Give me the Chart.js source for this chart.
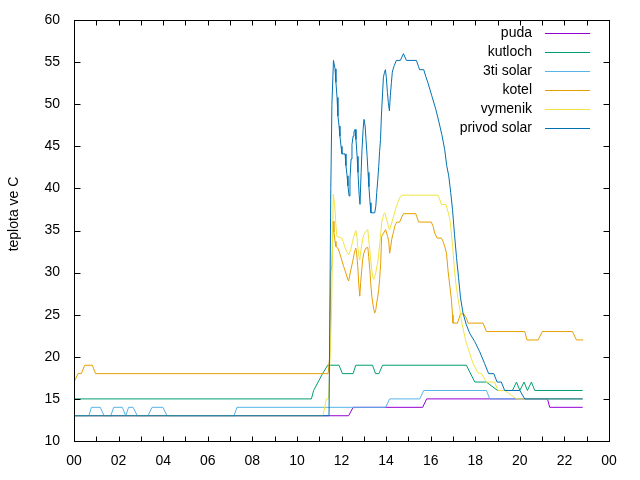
<!DOCTYPE html>
<html>
<head>
<meta charset="utf-8">
<script src="https://cdn.jsdelivr.net/npm/chart.js@4.4.1/dist/chart.umd.min.js"></script>
<style>
  html, body { margin: 0; padding: 0; background: #fff; }
</style>
</head>
<body>
<canvas id="teploty" width="640" height="480"></canvas>
<script>
// series names as in the legend
const seriesNames = ['puda', 'kutloch', '3ti solar', 'kotel', 'vymenik', 'privod solar'];

// time of day in hours, temperature in C
const pudaHours = [0, 12.32, 12.52, 15.64, 15.82, 21.24, 21.34, 22.82];
const pudaTemps = [13, 13, 14, 14, 15, 15, 14, 14];

const kutlochHours = [0, 10.65, 10.75, 10.95, 11.15, 11.38, 11.89, 12.04, 12.52, 12.64, 13.39, 13.53, 13.68, 13.84,
  17.6, 17.98, 18.5, 19.0, 19.67, 19.85, 20.0, 20.19, 20.34, 20.52, 20.67, 22.82];
const kutlochTemps = [15, 15, 16, 17, 18, 19, 19, 18, 18, 19, 19, 18, 18, 19,
  19, 17, 17, 16, 16, 17, 16, 17, 16, 17, 16, 16];

const solar3Hours = [0, 0.67, 0.78, 1.18, 1.35, 1.65, 1.78, 2.17, 2.32, 2.45, 2.65, 2.84, 3.32, 3.5, 3.99, 4.17,
  7.18, 7.31, 13.98, 14.16, 15.51, 15.69, 18.5, 18.65, 22.82];
const solar3Temps = [13, 13, 14, 14, 13, 13, 14, 14, 13, 14, 14, 13, 13, 14, 14, 13,
  13, 14, 14, 15, 15, 16, 16, 15, 15];

const kotelHours = [0, 0.18, 0.33, 0.48, 0.82, 0.97, 11.4, 11.47, 11.52, 11.57, 11.62, 11.66, 11.71, 11.75, 11.84,
  11.92, 12.01, 12.1, 12.19, 12.28, 12.32, 12.41, 12.5, 12.59, 12.64, 12.68, 12.73, 12.77, 12.82, 12.86, 12.91,
  12.95, 13.0, 13.09, 13.18, 13.22, 13.27, 13.31, 13.36, 13.4, 13.45, 13.49, 13.54, 13.58, 13.63, 13.67, 13.71,
  13.76, 13.8, 13.89, 13.98, 14.07, 14.12, 14.16, 14.21, 14.25, 14.3, 14.34, 14.39, 14.43, 14.48, 14.61, 14.7,
  14.79, 15.33, 15.37, 15.46, 16.03, 16.11, 16.18, 16.29, 16.48, 16.56, 16.63, 16.71, 16.78, 16.86, 16.93, 16.98,
  17.0, 17.2, 17.34, 17.48, 17.6, 17.68, 18.35, 18.5, 20.22, 20.32, 20.82, 21.01, 22.36, 22.54, 22.84];
const kotelTemps = [17, 18, 18, 19, 19, 18, 18, 20, 30, 31, 36.1, 34.8, 33.7, 33.1, 32.9,
  32.3, 31.5, 30.7, 30.0, 29.2, 29.0, 30.2, 31.3, 32.5, 32.9, 32.3, 30.7, 28.8, 27.2, 28.8, 30.4,
  31.5, 32.3, 32.9, 33.0, 31.9, 30.4, 28.8, 27.2, 26.4, 25.6, 25.2, 25.6, 26.4, 27.2, 28.0, 29.2,
  31.2, 34.3, 34.7, 35.1, 34.3, 33.7, 32.3, 33.1, 33.9, 34.5, 34.9, 35.5, 35.8, 36.0, 36.0, 36.6,
  37.0, 37.0, 36.7, 36.0, 36.0, 35.5, 34.7, 34.1, 34.1, 33.7, 33.1, 32.3, 30.2, 28.4, 26.8, 25.0,
  24.0, 24.0, 25.1, 25.1, 24.6, 24.0, 24.0, 23.0, 23.0, 22.0, 22.0, 23.0, 23.0, 22.0, 22.0];

const vymenikHours = [0, 11.17, 11.32, 11.42, 11.55, 11.63, 11.7, 11.74, 11.79, 12.01, 12.07, 12.14, 12.23, 12.32,
  12.41, 12.5, 12.55, 12.64, 12.69, 12.73, 12.78, 12.82, 12.87, 12.96, 13.0, 13.09, 13.18, 13.22, 13.27, 13.31,
  13.36, 13.4, 13.45, 13.49, 13.54, 13.58, 13.63, 13.67, 13.72, 13.76, 13.81, 13.85, 13.9, 13.94, 14.03, 14.12,
  14.16, 14.25, 14.34, 14.43, 14.52, 14.61, 14.7, 16.33, 16.38, 16.48, 16.68, 16.77, 16.85, 16.92, 16.99, 17.06,
  17.14, 17.22, 17.3, 17.38, 17.45, 17.53, 17.6, 17.68, 17.75, 17.9, 18.12, 18.28, 18.5, 18.87, 19.02, 19.32,
  19.85, 22.82];
const vymenikTemps = [13, 13, 15, 15, 25, 39.3, 37.9, 36, 34.3, 34.1, 33.7, 33.1, 32.5, 32.1,
  32.7, 33.7, 34.3, 35.0, 34.3, 33.1, 31.9, 31.5, 32.7, 34.1, 34.5, 34.9, 35.1, 33.9, 32.7, 31.5,
  30.3, 29.5, 29.2, 29.5, 30.0, 30.7, 31.2, 32.3, 33.5, 34.7, 36.1, 36.5, 37.0, 37.1, 36.3, 35.3,
  35.1, 35.9, 36.7, 37.6, 38.3, 38.9, 39.2, 39.2, 38.9, 38.1, 38.1, 37.3, 36.5, 35.0, 33.0, 30.5,
  28.5, 27.0, 25.8, 24.3, 23.4, 22.4, 21.6, 21.0, 20.4, 19.2, 18.1, 18.0, 17.0, 17.0, 16.0, 16.0,
  15.0, 15.0];

const privodHours = [0, 11.44, 11.52, 11.57, 11.64, 11.71, 11.75, 11.8, 11.84, 11.89, 11.93, 11.98, 12.02, 12.16,
  12.2, 12.25, 12.29, 12.34, 12.38, 12.43, 12.47, 12.52, 12.56, 12.61, 12.65, 12.7, 12.74, 12.79, 12.83, 12.88,
  12.92, 12.97, 13.01, 13.06, 13.1, 13.15, 13.19, 13.23, 13.28, 13.32, 13.49, 13.54, 13.58, 13.63, 13.67, 13.71,
  13.75, 13.79, 13.84, 13.88, 13.93, 13.97, 14.01, 14.06, 14.1, 14.15, 14.19, 14.24, 14.28, 14.33, 14.37, 14.46,
  14.64, 14.78, 14.91, 15.36, 15.45, 15.5, 15.69, 15.78, 15.87, 16.05, 16.23, 16.36, 16.5, 16.63, 16.72, 16.81,
  16.9, 16.98, 17.07, 17.16, 17.25, 17.34, 17.45, 17.6, 17.75, 17.98, 18.2, 18.42, 18.6, 18.83, 18.98, 19.17,
  19.32, 20.0, 20.22, 22.82];
const privodTemps = [13, 13, 40, 50, 55.2, 54.2, 52.6, 50.8, 48.6, 47.4, 46.2, 45.0, 44.1, 44.1,
  42.7, 41.5, 40.3, 39.1, 41.1, 43.5, 45.2, 46.2, 46.7, 47.0, 45.8, 43.8, 41.9, 39.3, 38.1, 41.9,
  44.6, 47.0, 48.2, 47.4, 45.8, 43.8, 41.9, 40.2, 38.3, 37.1, 37.1, 37.9, 39.5, 41.1, 42.6, 44.4,
  45.8, 48.6, 51.2, 53.2, 53.8, 54.1, 53.2, 51.4, 50.2, 49.2, 51.0, 52.6, 53.8, 54.3, 54.6, 55.2,
  55.2, 56.0, 55.2, 55.2, 54.5, 54.1, 54.1, 53.3, 52.6, 51.0, 49.4, 48.0, 46.4, 44.6, 42.7, 41.5,
  39.5, 37.5, 34.5, 31.8, 29.4, 27.0, 25.2, 23.8, 22.8, 21.8, 20.6, 19.2, 18.0, 18.0, 17.0, 17.0,
  16.0, 16.0, 15.0, 15.0];

const seriesHours = [pudaHours, kutlochHours, solar3Hours, kotelHours, vymenikHours, privodHours];
const seriesTemps = [pudaTemps, kutlochTemps, solar3Temps, kotelTemps, vymenikTemps, privodTemps];
const seriesColors = ['#9400d3', '#009e73', '#56b4e9', '#e69f00', '#f0e442', '#0072b2'];

const yTitle = 'teplota ve C';
const FONT = '"Liberation Sans", Arial, sans-serif';

// gnuplot-like frame: box, inward ticks, legend at top right, y label
const gnuFrame = {
  id: 'gnuFrame',
  afterDatasetsDraw(chart) {
    const { ctx, chartArea: a, scales: { x, y } } = chart;
    const L = a.left + 0.5, R = a.right + 0.5, T = a.top + 0.5, B = a.bottom + 0.5;
    ctx.save();
    ctx.strokeStyle = '#000';
    ctx.lineWidth = 1;
    ctx.strokeRect(L, T, R - L, B - T);
    ctx.beginPath();
    for (let h = x.min + 1; h < x.max; h++) {
      const px = Math.round(x.getPixelForValue(h)) + 0.5;
      ctx.moveTo(px, B); ctx.lineTo(px, B - 5);
      ctx.moveTo(px, T); ctx.lineTo(px, T + 5);
    }
    for (let v = y.min + 5; v < y.max; v += 5) {
      const py = Math.round(y.getPixelForValue(v)) + 0.5;
      ctx.moveTo(L, py); ctx.lineTo(L + 6, py);
      ctx.moveTo(R, py); ctx.lineTo(R - 6, py);
    }
    ctx.stroke();

    // legend
    ctx.font = '14px ' + FONT;
    ctx.textAlign = 'right';
    ctx.textBaseline = 'middle';
    chart.data.datasets.forEach((ds, i) => {
      const ly = Math.round(a.top + 13 + i * 19) + 0.5;
      ctx.fillStyle = '#000';
      ctx.fillText(ds.label, a.right - 77, ly);
      ctx.strokeStyle = ds.borderColor;
      ctx.beginPath();
      ctx.moveTo(a.right - 64, ly);
      ctx.lineTo(a.right - 19, ly);
      ctx.stroke();
    });

    // y axis title
    ctx.translate(14, 214);
    ctx.rotate(-Math.PI / 2);
    ctx.textAlign = 'center';
    ctx.fillStyle = '#000';
    ctx.fillText(yTitle, 0, 0);
    ctx.restore();
  }
};

const datasets = seriesNames.map((name, i) => ({
  label: name,
  data: seriesHours[i].map((h, k) => ({ x: h, y: seriesTemps[i][k] })),
  borderColor: seriesColors[i],
  borderWidth: 1,
  pointRadius: 0,
  tension: 0,
  fill: false,
  order: seriesNames.length - i
}));

new Chart(document.getElementById('teploty'), {
  type: 'line',
  data: { datasets },
  options: {
    responsive: false,
    animation: false,
    devicePixelRatio: 1,
    layout: { padding: { top: 20, right: 31, bottom: 0, left: 0 } },
    plugins: { legend: { display: false }, tooltip: { enabled: false } },
    scales: {
      x: {
        type: 'linear',
        min: 0,
        max: 24,
        grid: { display: false },
        border: { display: false },
        ticks: {
          stepSize: 2,
          autoSkip: false,
          maxRotation: 0,
          padding: 4,
          color: '#000',
          font: { family: FONT, size: 14 },
          callback: v => String(v % 24).padStart(2, '0')
        },
        afterFit: s => { s.height = 39; }
      },
      y: {
        min: 10,
        max: 60,
        grid: { display: false },
        border: { display: false },
        ticks: {
          stepSize: 5,
          padding: 6,
          color: '#000',
          font: { family: FONT, size: 14 }
        },
        afterFit: s => { s.width = 74; }
      }
    }
  },
  plugins: [gnuFrame]
});
</script>
</body>
</html>
